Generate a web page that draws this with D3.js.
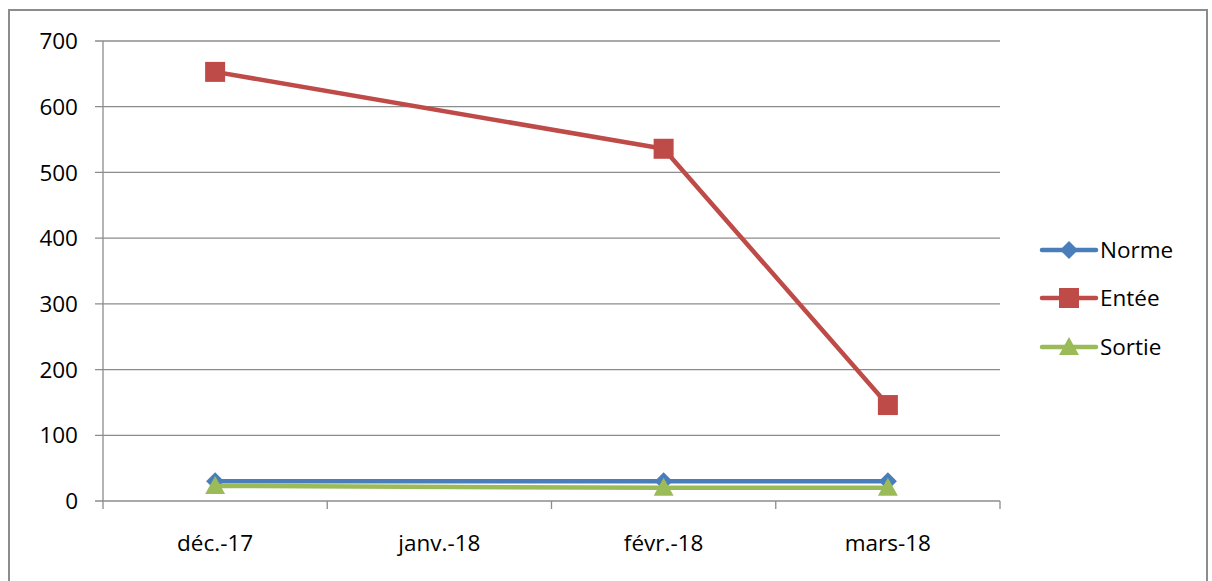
<!DOCTYPE html>
<html><head><meta charset="utf-8">
<script src="https://cdn.jsdelivr.net/npm/d3@7"></script>
<style>body{margin:0;background:#fff;} svg{display:block;} text{font-family:"Open Sans",sans-serif;fill:#000;}</style>
</head><body><svg id="c" width="1212" height="581"></svg>
<script>
const categories = ["déc.-17", "janv.-18", "févr.-18", "mars-18"];
const norme  = [30, null, 30, 30];
const entee  = [653, null, 536, 146];
const sortie = [23, null, 20, 20];
const yTicks = [0, 100, 200, 300, 400, 500, 600, 700];
const seriesNames = ["Norme", "Entée", "Sortie"];
const seriesColors = ["#4A7EBB", "#BE4B48", "#9BBB59"];
const seriesMarkers = ["diamond", "square", "triangle"];

(function () {
const svg = d3.select("#c");
const FS = 22.5;
// outer border
svg.append("rect").attr("x", 9).attr("y", 10).attr("width", 1198).attr("height", 600)
  .attr("fill", "none").attr("stroke", "#8c8c8c").attr("stroke-width", 2);

const pLeft = 103, pRight = 1000, pTop = 41, pBottom = 501;
const x = d3.scaleBand().domain(categories).range([pLeft, pRight]);
const y = d3.scaleLinear().domain([0, 700]).range([pBottom, pTop]);

// gridlines
svg.append("g").selectAll("line").data(yTicks).join("line")
  .attr("x1", pLeft - 8).attr("x2", pRight).attr("y1", d => y(d)).attr("y2", d => y(d))
  .attr("stroke", "#8c8c8c").attr("stroke-width", 1.3);
// y axis line
svg.append("line").attr("x1", pLeft).attr("x2", pLeft).attr("y1", pTop).attr("y2", pBottom + 8)
  .attr("stroke", "#8c8c8c").attr("stroke-width", 1.3);
// x ticks at band boundaries
const bounds = categories.map(c => x(c)).concat([pRight]);
svg.append("g").selectAll("line").data(bounds.slice(1)).join("line")
  .attr("x1", d => d).attr("x2", d => d).attr("y1", pBottom).attr("y2", pBottom + 8)
  .attr("stroke", "#8c8c8c").attr("stroke-width", 1.3);
// y labels
svg.append("g").selectAll("text").data(yTicks).join("text")
  .attr("x", 78).attr("y", d => y(d)).attr("dy", "0.36em").attr("text-anchor", "end")
  .attr("font-size", FS).text(d => d);
// x labels
svg.append("g").selectAll("text").data(categories).join("text")
  .attr("x", d => x(d) + x.bandwidth() / 2).attr("y", 551).attr("text-anchor", "middle")
  .attr("font-size", FS).text(d => d);

const data = [norme, entee, sortie];
const cx = i => x(categories[i]) + x.bandwidth() / 2;
function marker(g, type, px, py, color) {
  if (type === "diamond") {
    g.append("path").attr("d", "M0,-9L9,0L0,9L-9,0Z").attr("transform", `translate(${px},${py})`).attr("fill", color);
  } else if (type === "square") {
    g.append("rect").attr("x", px - 10).attr("y", py - 10).attr("width", 20).attr("height", 20).attr("fill", color);
  } else {
    g.append("path").attr("d", `M0,-10L10,8L-10,8Z`).attr("transform", `translate(${px},${py})`).attr("fill", color);
  }
}
const order = [0, 2, 1];
order.forEach(si => {
  const vals = data[si];
  const pts = vals.map((v, i) => ({v, i})).filter(p => p.v !== null);
  const line = d3.line().x(p => cx(p.i)).y(p => y(p.v));
  const g = svg.append("g");
  g.append("path").attr("d", line(pts)).attr("fill", "none").attr("stroke", seriesColors[si])
    .attr("stroke-width", 4.5).attr("stroke-linejoin", "round");
  pts.forEach(p => marker(g, seriesMarkers[si], cx(p.i), y(p.v), seriesColors[si]));
});

// legend
const ly = [250, 298, 347];
seriesNames.forEach((n, i) => {
  const g = svg.append("g");
  g.append("line").attr("x1", 1042).attr("x2", 1096).attr("y1", ly[i]).attr("y2", ly[i])
    .attr("stroke", seriesColors[i]).attr("stroke-width", 4.5).attr("stroke-linecap", "round");
  marker(g, seriesMarkers[i], 1069, ly[i], seriesColors[i]);
  g.append("text").attr("x", 1100).attr("y", ly[i]).attr("dy", "0.36em").attr("font-size", FS).text(n);
});
})();
</script></body></html>
